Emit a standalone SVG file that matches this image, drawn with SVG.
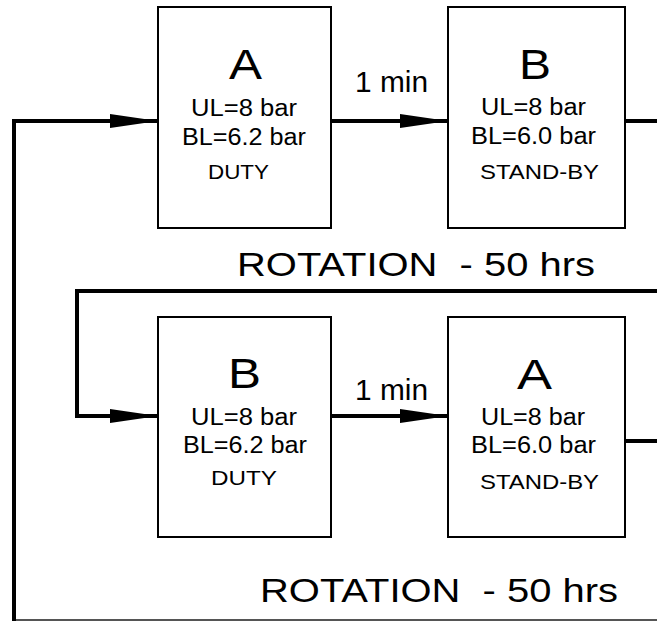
<svg xmlns="http://www.w3.org/2000/svg" width="657" height="623" viewBox="0 0 657 623">
<style>
.box{fill:#fff;stroke:#000;stroke-width:2}
.wire{fill:none;stroke:#000;stroke-width:4}
.t{font-family:"Liberation Sans",Arial,sans-serif;fill:#000}
.big{font-size:42px}
.mid{font-size:23px}
.sm{font-size:21px}
.lbl{font-size:29px}
.rot{font-size:34px}
</style>
<defs>
<marker id="ah" viewBox="0 0 48 14" refX="48" refY="7" markerWidth="48" markerHeight="14" markerUnits="userSpaceOnUse" orient="auto">
<polygon points="0,0 48,7 0,14" fill="#000"/>
</marker>
</defs>
<rect width="657" height="623" fill="#fff"/>
<g id="connectors">
<line x1="14" y1="620" x2="657" y2="620" stroke="#555" stroke-width="2"/>
<polyline class="wire" points="14,621 14,121 158,121" marker-end="url(#ah)"/>
<line class="wire" x1="331" y1="121" x2="448" y2="121" marker-end="url(#ah)"/>
<line class="wire" x1="625" y1="121" x2="657" y2="121"/>
<polyline class="wire" points="657,291 77,291 77,416 158,416" marker-end="url(#ah)"/>
<line class="wire" x1="331" y1="416" x2="448" y2="416" marker-end="url(#ah)"/>
<line class="wire" x1="625" y1="441" x2="657" y2="441"/>
</g>
<g id="box-top-A">
<rect class="box" x="158" y="7" width="173" height="221"/>
<text class="t big" x="229" y="79" textLength="33" lengthAdjust="spacingAndGlyphs">A</text>
<text class="t mid" x="191" y="116" textLength="106" lengthAdjust="spacingAndGlyphs">UL=8 bar</text>
<text class="t mid" x="182" y="145" textLength="124" lengthAdjust="spacingAndGlyphs">BL=6.2 bar</text>
<text class="t sm" x="208" y="179" textLength="61" lengthAdjust="spacingAndGlyphs">DUTY</text>
</g>
<g id="box-top-B">
<rect class="box" x="448" y="7" width="177" height="221"/>
<text class="t big" x="519" y="79" textLength="32" lengthAdjust="spacingAndGlyphs">B</text>
<text class="t mid" x="481" y="115" textLength="105" lengthAdjust="spacingAndGlyphs">UL=8 bar</text>
<text class="t mid" x="471" y="144" textLength="125" lengthAdjust="spacingAndGlyphs">BL=6.0 bar</text>
<text class="t sm" x="480" y="179" textLength="119" lengthAdjust="spacingAndGlyphs">STAND-BY</text>
</g>
<g id="box-bottom-B">
<rect class="box" x="158" y="317" width="173" height="220"/>
<text class="t big" x="228" y="388" textLength="33" lengthAdjust="spacingAndGlyphs">B</text>
<text class="t mid" x="191" y="425" textLength="106" lengthAdjust="spacingAndGlyphs">UL=8 bar</text>
<text class="t mid" x="183" y="453" textLength="124" lengthAdjust="spacingAndGlyphs">BL=6.2 bar</text>
<text class="t sm" x="211" y="485" textLength="66" lengthAdjust="spacingAndGlyphs">DUTY</text>
</g>
<g id="box-bottom-A">
<rect class="box" x="448" y="317" width="177" height="220"/>
<text class="t big" x="517" y="389" textLength="35" lengthAdjust="spacingAndGlyphs">A</text>
<text class="t mid" x="481" y="425" textLength="104" lengthAdjust="spacingAndGlyphs">UL=8 bar</text>
<text class="t mid" x="471" y="453" textLength="125" lengthAdjust="spacingAndGlyphs">BL=6.0 bar</text>
<text class="t sm" x="480" y="489" textLength="119" lengthAdjust="spacingAndGlyphs">STAND-BY</text>
</g>
<g id="labels">
<text class="t lbl" x="355" y="92" textLength="73" lengthAdjust="spacingAndGlyphs">1 min</text>
<text class="t lbl" x="355" y="400" textLength="73" lengthAdjust="spacingAndGlyphs">1 min</text>
<text class="t rot" x="237" y="276" textLength="358" lengthAdjust="spacingAndGlyphs" xml:space="preserve">ROTATION  - 50 hrs</text>
<text class="t rot" x="260" y="602" textLength="358" lengthAdjust="spacingAndGlyphs" xml:space="preserve">ROTATION  - 50 hrs</text>
</g>
</svg>
